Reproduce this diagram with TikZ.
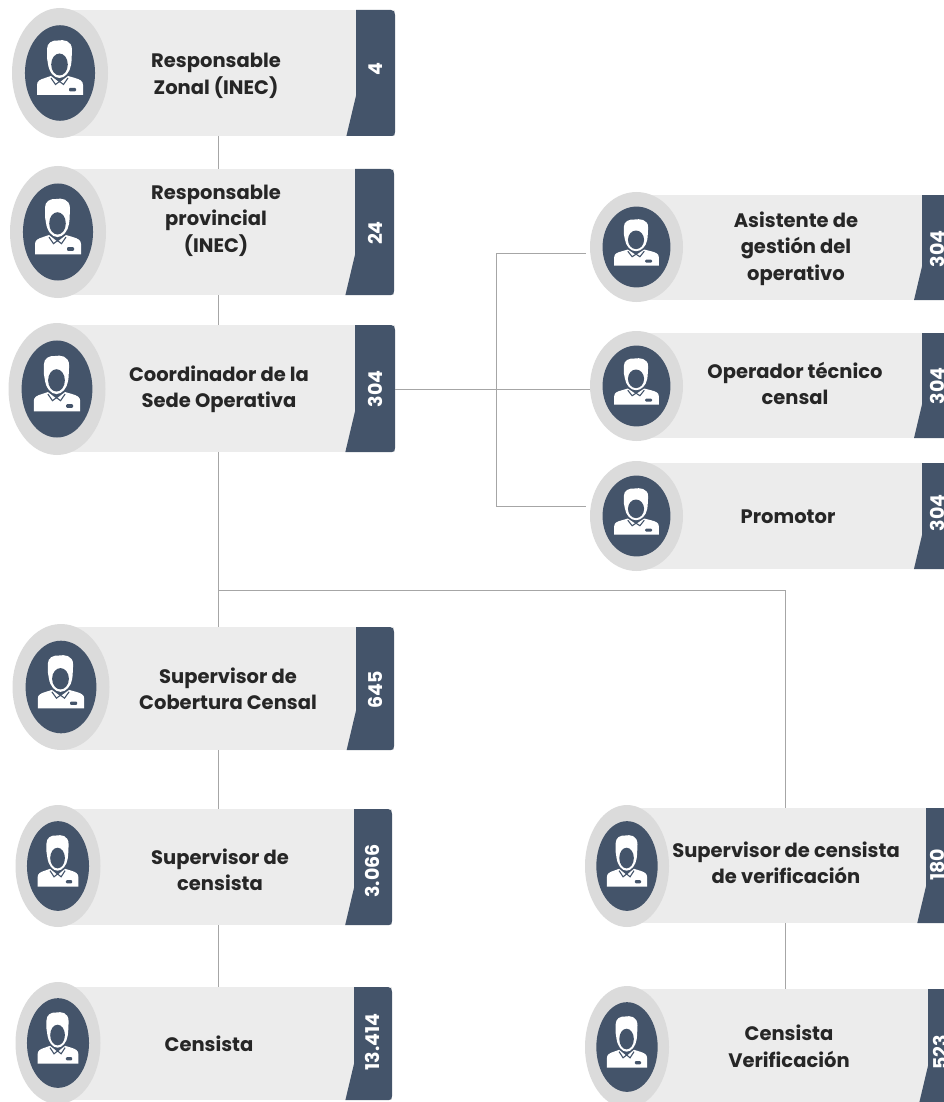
\documentclass[tikz,border=0pt]{standalone}
\usepackage{fontspec}
\setmainfont{Poppins}
\definecolor{cardgrey}{HTML}{ECECEC}
\definecolor{ringgrey}{HTML}{DBDBDB}
\definecolor{navy}{HTML}{44546A}
\definecolor{ink}{HTML}{262626}
\definecolor{wire}{HTML}{A6A6A6}
\tikzset{
  cardbody/.style={fill=cardgrey,draw=none,inner sep=0pt,outer sep=0pt,rectangle},
  label/.style={text=ink,font=\fontsize{19.5}{26.5}\selectfont\bfseries,align=center,inner sep=0pt},
  count/.style={text=white,font=\fontsize{19}{20}\selectfont\bfseries,rotate=90,inner sep=0pt},
  wireline/.style={draw=wire,line width=0.9pt}
}
% name, cx, cy, rx, ry, top, bottom, bar top-left x, right x
\newcommand{\personcard}[9]{
  \node[cardbody,anchor=north west,minimum width={(#9-#2)*1pt},minimum height={(#7-#6)*1pt}] (#1) at (#2,#6) {};
  \fill[navy] (#8,#6) -- ({#9-4},#6) .. controls ({#9-1},#6) and (#9,{#6+2}) .. (#9,{#6+5}) -- (#9,{#7-4})
     .. controls (#9,{#7-1}) and ({#9-1},#7) .. ({#9-3},#7)
     -- ({#8-(#7-#6)*0.076},#7) -- (#8,{#7-(#7-#6)*0.32}) -- cycle;
  \fill[ringgrey] (#2,#3) ellipse [x radius=#4, y radius=#5];
  \fill[navy] (#2,#3) ellipse [x radius={#4*0.73}, y radius={#5*0.735}];
  \begin{scope}[shift={(#2,#3)},xscale=#4/48,yscale=#5/65]
    \fill[white] (-0.5,5) .. controls (-6,5) and (-11,-1) .. (-12,-9)
       -- (-13,-15) -- (-13,-24)
       .. controls (-13,-30) and (-8,-33) .. (-2,-32.5)
       .. controls (3,-33.5) and (12,-33) .. (12,-23)
       -- (11.5,-12) -- (11,-8)
       .. controls (10,-1) and (5,5) .. (-0.5,5) -- cycle;
    \fill[navy] (-0.5,-8.5) ellipse [x radius=8.3, y radius=11];
    \fill[white] (-23,22) -- (-23,12) .. controls (-23,8) and (-20,6.5) .. (-15,5) -- (-9,3)
       -- (-0.5,9.5) -- (8,3) -- (15,5) .. controls (20,6.5) and (23,8) .. (23,12) -- (23,22) -- cycle;
    \draw[navy,line width=1.1pt] (-9,5) -- (-4.5,11.5) -- (-0.5,8.5) -- (3.5,11.5) -- (8,5);
    \fill[navy,rounded corners=1pt] (9,15) rectangle (16,18.5);
  \end{scope}
}
\begin{document}
\begin{tikzpicture}[x=1pt,y=-1pt]
\useasboundingbox (0,0) rectangle (943,1102);
\coordinate (leftspine) at (218.5,0);
\coordinate (branch) at (496.5,0);
\coordinate (rightspine) at (785,0);
\coordinate (busy) at (0,590.5);

\personcard{rz}{60}{73}{48}{65}{10}{136}{356}{395}
\personcard{rp}{58}{232}{48}{66}{169}{295}{355}{394}
\personcard{co}{57}{389}{48.5}{66}{325}{452}{355}{395}
\personcard{sc}{61}{687}{48.5}{63}{627}{750}{356}{394}
\personcard{sn}{58}{866}{42.5}{61}{809}{925}{354}{392}
\personcard{ce}{58}{1043}{42.5}{61}{987}{1100}{354}{392}
\personcard{as}{636.5}{247}{46.5}{55}{195}{300}{922}{960}
\personcard{op}{636.5}{386}{46.5}{55}{333}{438}{922}{960}
\personcard{pr}{636.5}{516}{46.5}{55}{463}{569}{922}{960}
\personcard{sv}{627}{866}{42}{61}{808}{923}{926}{965}
\personcard{cv}{627}{1047}{42}{61}{989}{1102}{928}{965}

\draw[wireline] (leftspine |- rz.south) -- (leftspine |- rp.north);
\draw[wireline] (leftspine |- rp.south) -- (leftspine |- co.north);
\draw[wireline] (leftspine |- co.south) -- (leftspine |- sc.north);
\draw[wireline] (leftspine |- sc.south) -- (leftspine |- sn.north);
\draw[wireline] (leftspine |- sn.south) -- (leftspine |- ce.north);
\draw[wireline] (leftspine |- busy) -- (rightspine |- busy) -- (rightspine |- sv.north);
\draw[wireline] (rightspine |- sv.south) -- (rightspine |- cv.north);
\coordinate (cobar) at (395,389.5);
\coordinate (aspt) at (586,253.5);
\coordinate (prpt) at (586,506.5);
\coordinate (oppt) at (590,389.5);
\draw[wireline] (cobar) -- (oppt);
\draw[wireline] (aspt) -- (branch |- aspt) -- (branch |- prpt) -- (prpt);

\node[label] (t1) at (216,76) {Responsable\\Zonal (INEC)};
\node[label] (t2) at (216,220.5) {Responsable\\provincial\\(INEC)};
\node[label] (t3) at (219,389.5) {Coordinador de la\\Sede Operativa};
\node[label] (t4) at (228,689) {Supervisor de\\Cobertura Censal};
\node[label] (t5) at (220,870) {Supervisor de\\censista};
\node[label] (t6) at (209,1044) {Censista};
\node[label] (t7) at (796,248.5) {Asistente de\\gestión del\\operativo};
\node[label] (t8) at (795,383.5) {Operador técnico\\censal};
\node[label] (t9) at (788,517) {Promotor};
\node[label] (t10) at (786,863) {Supervisor de censista\\de verificación};
\node[label] (t11) at (789,1046.5) {Censista\\Verificación};

\node[count] (n1) at (376,69) {4};
\node[count] (n2) at (375,233) {24};
\node[count] (n3) at (375,389) {304};
\node[count] (n4) at (375,690) {645};
\node[count] (n5) at (372,871) {3.066};
\node[count] (n6) at (372,1042) {13.414};
\node[count] (n7) at (937,249) {304};
\node[count] (n8) at (937,386) {304};
\node[count] (n9) at (937,513) {304};
\node[count] (n10) at (938,865) {180};
\node[count] (n11) at (940,1052) {523};
\end{tikzpicture}
\end{document}
